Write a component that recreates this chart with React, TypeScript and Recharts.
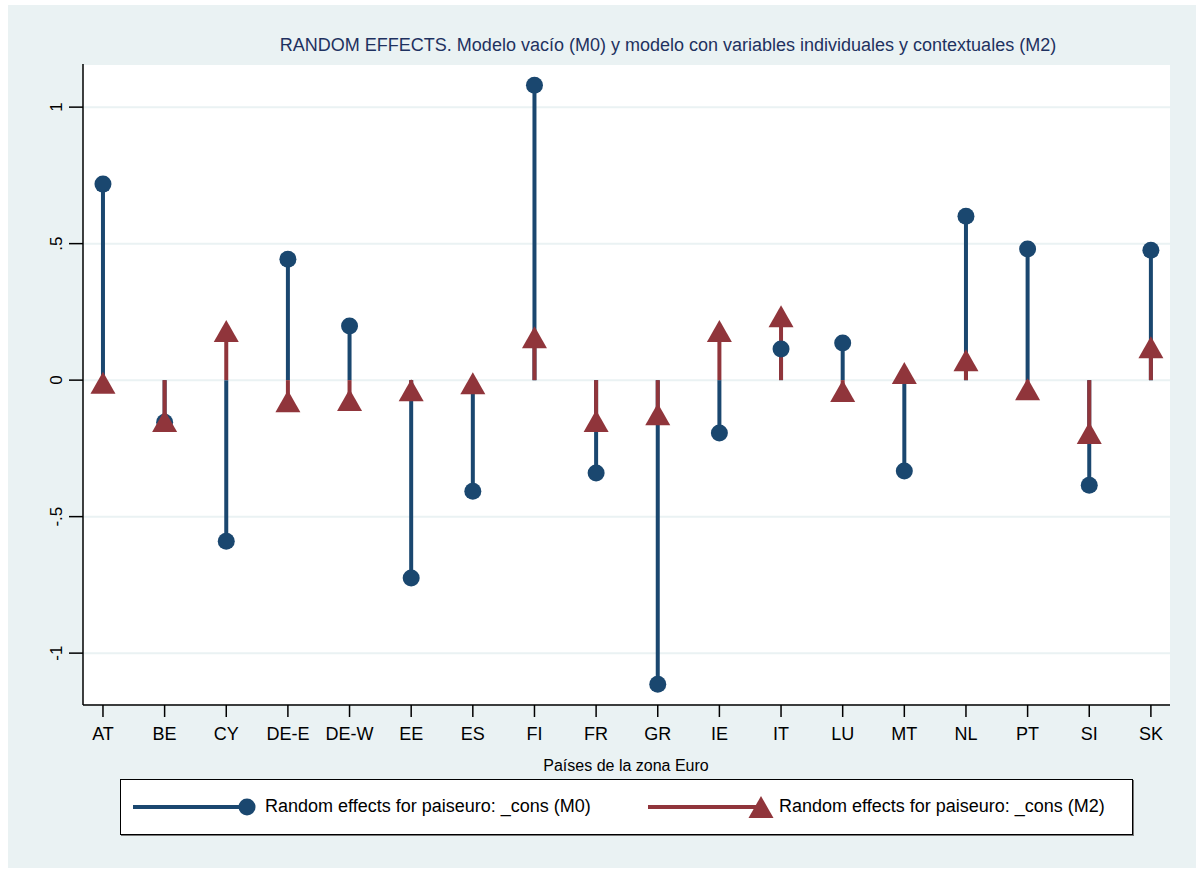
import React from 'react';
import {
  ComposedChart,
  Scatter,
  ErrorBar,
  XAxis,
  YAxis,
  CartesianGrid,
} from 'recharts';

// Countries (x positions 1..18)
const countries = ['AT', 'BE', 'CY', 'DE-E', 'DE-W', 'EE', 'ES', 'FI', 'FR', 'GR', 'IE', 'IT', 'LU', 'MT', 'NL', 'PT', 'SI', 'SK'];

// Random effects, empty model (M0)
const m0Values = [0.718, -0.154, -0.59, 0.443, 0.198, -0.725, -0.407, 1.08, -0.34, -1.114, -0.194, 0.114, 0.136, -0.333, 0.6, 0.48, -0.385, 0.476];

// Random effects, model with individual and contextual variables (M2)
const m2Values = [-0.01, -0.15, 0.18, -0.077, -0.073, -0.037, -0.011, 0.157, -0.15, -0.125, 0.18, 0.234, -0.04, 0.026, 0.073, -0.033, -0.194, 0.12];

const yTicks = [-1, -0.5, 0, 0.5, 1];

const BLUE = '#1a476f';
const RED = '#90353b';
const BG = '#eaf2f3';
const FONT = '"Liberation Sans", Arial, sans-serif';

// stem from 0 to the value, as [lower, upper] error around the point
const toPoints = (values: number[]) =>
  values.map((v, i) => ({
    x: i + 1,
    y: v,
    stem: [Math.max(v, 0), Math.max(-v, 0)],
  }));

const m0Points = toPoints(m0Values);
const m2Points = toPoints(m2Values);

const fmtY = (v: number) => {
  if (v === 0) return '0';
  return String(v).replace('0.', '.');
};

const Dot = (props: any) => {
  const { cx, cy } = props;
  if (cx == null || cy == null) return null;
  return <circle cx={cx} cy={cy} r={8.5} fill={BLUE} />;
};

const Tri = (props: any) => {
  const { cx, cy } = props;
  if (cx == null || cy == null) return null;
  return (
    <polygon
      points={`${cx},${cy - 11} ${cx + 12.5},${cy + 11} ${cx - 12.5},${cy + 11}`}
      fill={RED}
    />
  );
};

const YTick = (props: any) => {
  const { x, y, payload } = props;
  const bx = x - 5;
  return (
    <text
      x={bx}
      y={y}
      transform={`rotate(-90 ${bx} ${y})`}
      textAnchor="middle"
      fill="#000"
      fontSize={17}
      fontFamily={FONT}
    >
      {fmtY(payload.value)}
    </text>
  );
};

export default function App() {
  return (
    <div style={{ position: 'absolute', left: 0, top: 0, width: 1196, height: 869, background: '#fff', fontFamily: FONT }}>
      <div style={{ position: 'absolute', left: 8, top: 5, width: 1188, height: 863, background: BG }} />

      <div
        style={{
          position: 'absolute',
          left: 668,
          top: 35,
          transform: 'translateX(-50%)',
          whiteSpace: 'nowrap',
          fontSize: 18,
          color: '#1e3160',
        }}
      >
        RANDOM EFFECTS. Modelo vacío (M0) y modelo con variables individuales y contextuales (M2)
      </div>

      <div style={{ position: 'absolute', left: 0, top: 0 }}>
        <ComposedChart
          width={1196}
          height={869}
          margin={{ top: 64, right: 26, bottom: 134, left: 0 }}
        >
          <CartesianGrid vertical={false} fill="#fff" stroke={BG} strokeWidth={2} />
          <XAxis
            type="number"
            dataKey="x"
            domain={[0.676, 18.31]}
            ticks={countries.map((_, i) => i + 1)}
            tickFormatter={(v: number) => countries[v - 1]}
            allowDataOverflow
            interval={0}
            height={30}
            tickSize={12}
            tickMargin={10}
            axisLine={{ stroke: '#000', strokeWidth: 1.5 }}
            tickLine={{ stroke: '#000', strokeWidth: 1.5 }}
            tick={{ fill: '#000', fontSize: 18, fontFamily: FONT }}
          />
          <YAxis
            type="number"
            dataKey="y"
            domain={[-1.19, 1.158]}
            ticks={yTicks}
            allowDataOverflow
            interval={0}
            width={83}
            tickSize={14}
            tickMargin={2}
            axisLine={{ stroke: '#000', strokeWidth: 1.5 }}
            tickLine={{ stroke: '#000', strokeWidth: 1.5 }}
            tick={<YTick />}
          />
          <Scatter data={m0Points} shape={<Dot />} isAnimationActive={false}>
            <ErrorBar dataKey="stem" direction="y" width={0} stroke={BLUE} strokeWidth={4} />
          </Scatter>
          <Scatter data={m2Points} shape={<Tri />} isAnimationActive={false}>
            <ErrorBar dataKey="stem" direction="y" width={0} stroke={RED} strokeWidth={4} />
          </Scatter>
        </ComposedChart>
      </div>

      <div
        style={{
          position: 'absolute',
          left: 626,
          top: 757,
          transform: 'translateX(-50%)',
          whiteSpace: 'nowrap',
          fontSize: 16,
          color: '#000',
        }}
      >
        Países de la zona Euro
      </div>

      <div
        style={{
          position: 'absolute',
          left: 120,
          top: 779,
          width: 1011,
          height: 54,
          background: '#fff',
          border: '1px solid #000',
          boxShadow: '1px 1px 0 #777',
        }}
      >
        <svg width={1011} height={54} style={{ position: 'absolute', left: 0, top: 0 }}>
          <line x1={12} y1={27} x2={126} y2={27} stroke={BLUE} strokeWidth={4} />
          <circle cx={126} cy={27} r={8.5} fill={BLUE} />
          <line x1={527} y1={27} x2={640} y2={27} stroke={RED} strokeWidth={4} />
          <polygon points="640,16 652.5,38 627.5,38" fill={RED} />
        </svg>
        <div style={{ position: 'absolute', left: 144, top: 16, fontSize: 18, whiteSpace: 'nowrap', color: '#000' }}>
          Random effects for paiseuro: _cons (M0)
        </div>
        <div style={{ position: 'absolute', left: 658, top: 16, fontSize: 18, whiteSpace: 'nowrap', color: '#000' }}>
          Random effects for paiseuro: _cons (M2)
        </div>
      </div>
    </div>
  );
}
